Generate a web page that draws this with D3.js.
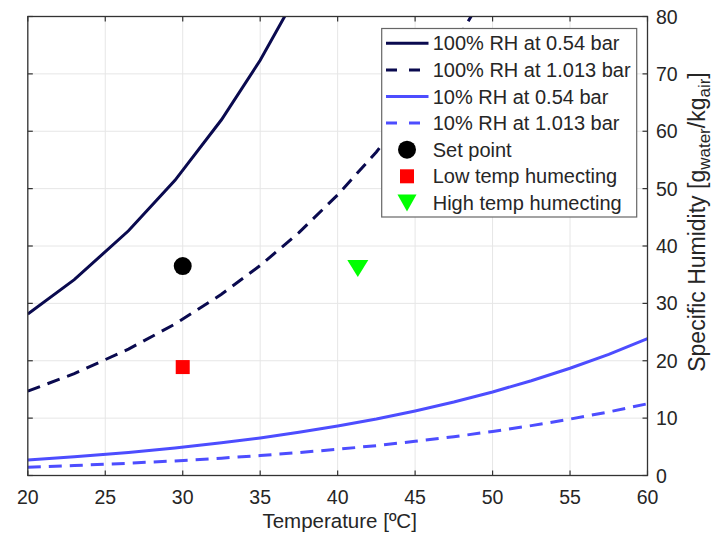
<!DOCTYPE html>
<html><head><meta charset="utf-8">
<script src="https://cdn.jsdelivr.net/npm/d3@7"></script>
<style>
body{margin:0;background:#fff}
svg text{font-family:"Liberation Sans",Arial,Helvetica,sans-serif;fill:#262626}
</style>
</head><body>
<svg id="chart" width="713" height="533"></svg>
<script>
// ---- data ----
const temps      = [20, 23, 26.5, 29.5, 32.5, 35, 37.5, 40, 42.5, 45, 47.5, 50, 52.5, 55, 57.5, 60];
const rh100_054  = [28.16, 34.14, 42.65, 51.44, 62.00, 72.38, 84.45, null, null, null, null, null, null, null, null, null];
const rh100_1013 = [14.70, 17.75, 22.03, 26.40, 31.58, 36.60, 42.33, 48.91, 56.39, 65.08, 74.92, 86.36, null, null, null, null];
const rh10_054   = [2.71, 3.25, 4.02, 4.79, 5.69, 6.55, 7.53, 8.62, 9.85, 11.25, 12.80, 14.56, 16.51, 18.70, 21.12, 23.86];
const rh10_1013  = [1.44, 1.73, 2.14, 2.54, 3.02, 3.48, 3.99, 4.57, 5.21, 5.95, 6.76, 7.68, 8.69, 9.83, 11.08, 12.50];
const setPoint   = [30, 36.5];
const lowTemp    = [30, 18.9];
const highTemp   = [41.3, 36.1];
const xTicks = [20, 25, 30, 35, 40, 45, 50, 55, 60];
const yTicks = [0, 10, 20, 30, 40, 50, 60, 70, 80];
const legendLabels = ["100% RH at 0.54 bar", "100% RH at 1.013 bar", "10% RH at 0.54 bar", "10% RH at 1.013 bar",
                      "Set point", "Low temp humecting", "High temp humecting"];

// ---- layout ----
const L = 27.8, R = 647.5, T = 16.5, B = 475.5;
const navy = "#0a0a4f", blue = "#4d4dff";
const axisColor = "#333333";

const svg = d3.select("#chart");
const x = d3.scaleLinear().domain([20, 60]).range([L, R]);
const y = d3.scaleLinear().domain([0, 80]).range([B, T]);

// grid
const g = svg.append("g");
g.selectAll(".gx").data(xTicks).join("line")
  .attr("x1", d => x(d)).attr("x2", d => x(d)).attr("y1", T).attr("y2", B)
  .attr("stroke", "#e6e6e6").attr("stroke-width", 1);
g.selectAll(".gy").data(yTicks).join("line")
  .attr("y1", d => y(d)).attr("y2", d => y(d)).attr("x1", L).attr("x2", R)
  .attr("stroke", "#e6e6e6").attr("stroke-width", 1);

// clip
svg.append("clipPath").attr("id", "clip").append("rect")
  .attr("x", L).attr("y", T).attr("width", R - L).attr("height", B - T);

const series = [
  {v: rh100_054, color: navy, dash: null},
  {v: rh100_1013, color: navy, dash: "13,8"},
  {v: rh10_054, color: blue, dash: null},
  {v: rh10_1013, color: blue, dash: "13,8"}
];
const line = d3.line().defined(d => d[1] != null).x(d => x(d[0])).y(d => y(d[1]));
const pg = svg.append("g").attr("clip-path", "url(#clip)");
series.forEach(s => {
  pg.append("path").datum(temps.map((t, i) => [t, s.v[i]]))
    .attr("d", line).attr("fill", "none").attr("stroke", s.color)
    .attr("stroke-width", 3).attr("stroke-dasharray", s.dash);
});

function triPath(cx, cy, w, h) {
  return `M${cx - w/2},${cy - h/2}L${cx + w/2},${cy - h/2}L${cx},${cy + h/2}Z`;
}
// markers
pg.append("circle").attr("cx", x(setPoint[0])).attr("cy", y(setPoint[1])).attr("r", 9).attr("fill", "#000");
pg.append("rect").attr("x", x(lowTemp[0]) - 7).attr("y", y(lowTemp[1]) - 7).attr("width", 14).attr("height", 14).attr("fill", "#ff0000");
pg.append("path").attr("d", triPath(x(highTemp[0]), y(highTemp[1]), 21, 17)).attr("fill", "#00ff00");

// axes box
const ax = svg.append("g");
ax.append("rect").attr("x", L).attr("y", T).attr("width", R - L).attr("height", B - T)
  .attr("fill", "none").attr("stroke", axisColor).attr("stroke-width", 1.3);
const tl = 5;
xTicks.forEach(d => {
  ax.append("line").attr("x1", x(d)).attr("x2", x(d)).attr("y1", B).attr("y2", B - tl).attr("stroke", axisColor).attr("stroke-width", 1.2);
  ax.append("line").attr("x1", x(d)).attr("x2", x(d)).attr("y1", T).attr("y2", T + tl).attr("stroke", axisColor).attr("stroke-width", 1.2);
  ax.append("text").attr("x", x(d)).attr("y", 504).attr("text-anchor", "middle").attr("font-size", 19.5).text(d);
});
yTicks.forEach(d => {
  ax.append("line").attr("y1", y(d)).attr("y2", y(d)).attr("x1", R).attr("x2", R - tl).attr("stroke", axisColor).attr("stroke-width", 1.2);
  ax.append("line").attr("y1", y(d)).attr("y2", y(d)).attr("x1", L).attr("x2", L + tl).attr("stroke", axisColor).attr("stroke-width", 1.2);
  ax.append("text").attr("x", 656).attr("y", y(d) + 7).attr("text-anchor", "start").attr("font-size", 19.5).text(d);
});

// axis labels
svg.append("text").attr("x", (L + R) / 2 + 2).attr("y", 528).attr("text-anchor", "middle").attr("font-size", 20.5)
  .text("Temperature [ºC]");
const yl = svg.append("text").attr("transform", `translate(705,222) rotate(-90)`)
  .attr("text-anchor", "middle").attr("font-size", 23);
yl.append("tspan").text("Specific Humidity [g");
yl.append("tspan").attr("font-size", 17).attr("dy", 5).text("water");
yl.append("tspan").attr("dy", -5).text("/kg");
yl.append("tspan").attr("font-size", 17).attr("dy", 5).text("air");
yl.append("tspan").attr("dy", -5).text("]");

// legend
const lg = svg.append("g");
lg.append("rect").attr("x", 381.7).attr("y", 28.5).attr("width", 255).attr("height", 188.5)
  .attr("fill", "#fff").attr("stroke", "#666").attr("stroke-width", 1.2);
const rowY = i => 43.3 + i * 26.6;
legendLabels.forEach((lab, i) => {
  const cy = rowY(i);
  if (i < 4) {
    const s = series[i];
    lg.append("line").attr("x1", 386).attr("x2", 428.5).attr("y1", cy).attr("y2", cy)
      .attr("stroke", s.color).attr("stroke-width", 3).attr("stroke-dasharray", s.dash ? "11,12" : null);
  } else if (i === 4) {
    lg.append("circle").attr("cx", 407).attr("cy", cy).attr("r", 9).attr("fill", "#000");
  } else if (i === 5) {
    lg.append("rect").attr("x", 400).attr("y", cy - 7).attr("width", 14).attr("height", 14).attr("fill", "#ff0000");
  } else {
    lg.append("path").attr("d", triPath(407, cy, 19, 17)).attr("fill", "#00ff00");
  }
  lg.append("text").attr("x", 432.7).attr("y", cy + 7).attr("font-size", 20).text(lab);
});
</script>
</body></html>
